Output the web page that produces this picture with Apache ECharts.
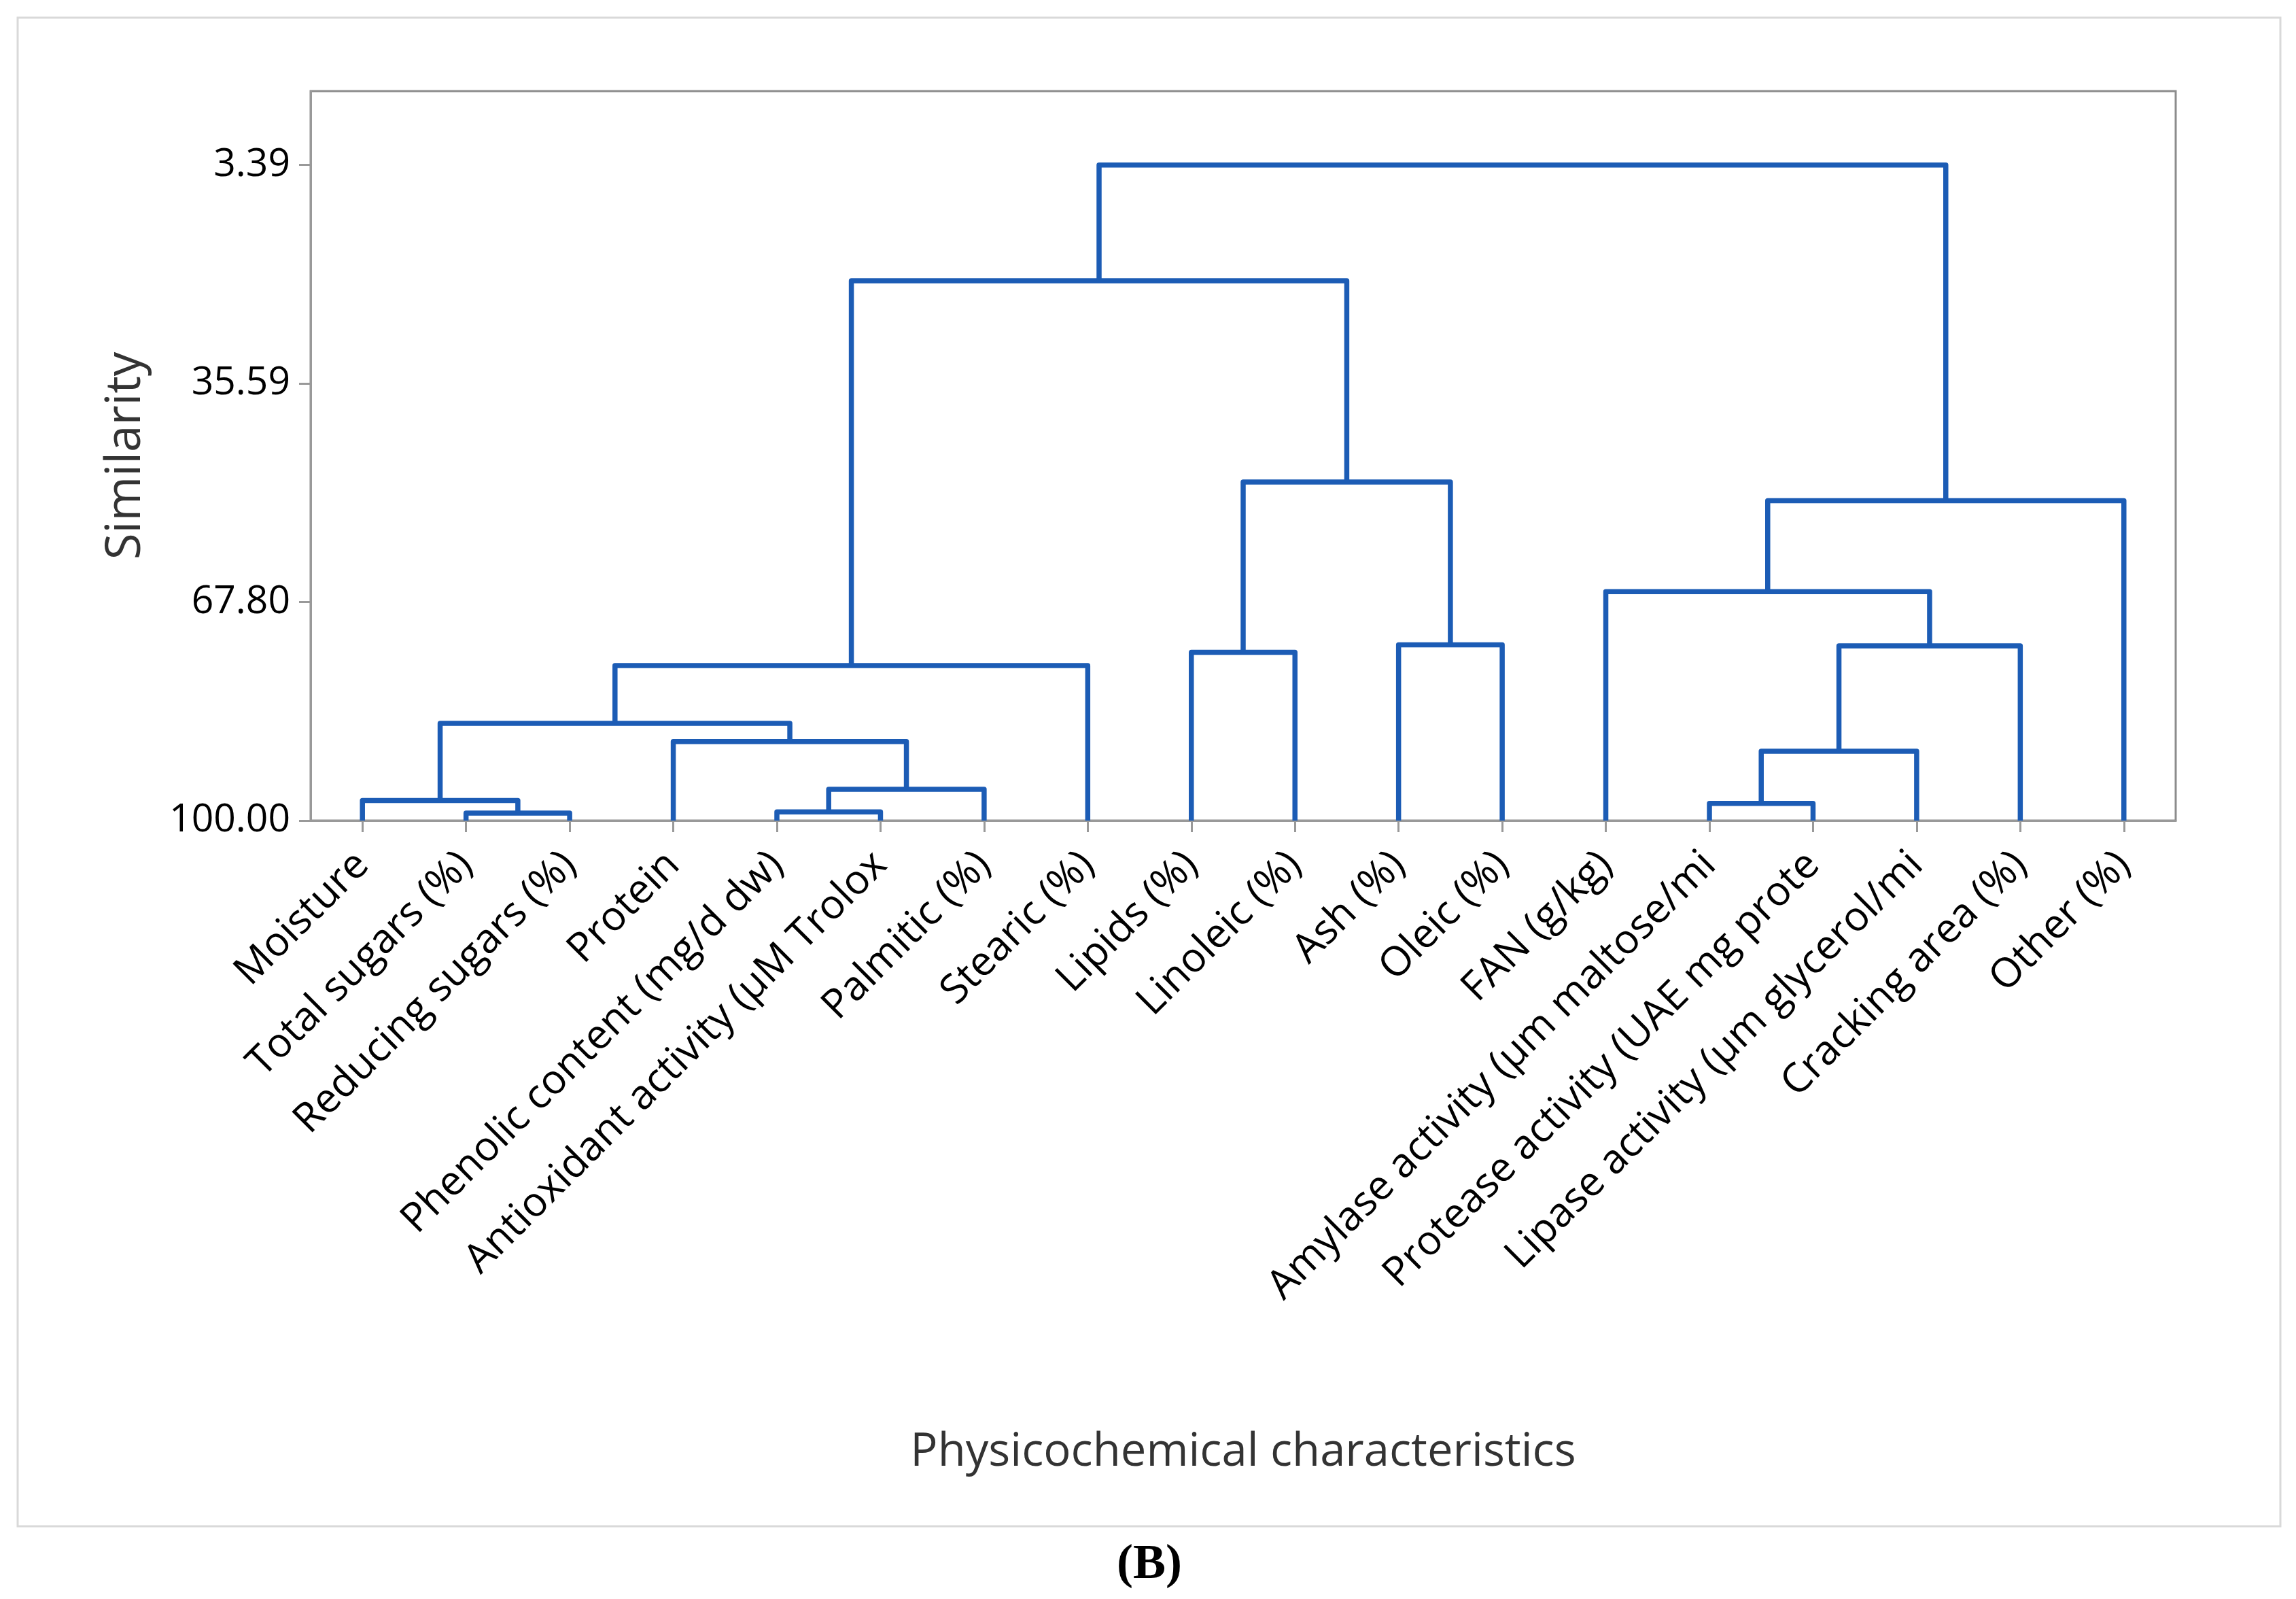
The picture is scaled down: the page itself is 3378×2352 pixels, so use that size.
<!DOCTYPE html>
<html>
<head>
<meta charset="utf-8">
<script src="https://cdn.jsdelivr.net/npm/echarts@6/dist/echarts.min.js"></script>
<style>
html,body{margin:0;padding:0;background:#fff;}
#chart{width:3378px;height:2352px;}
</style>
</head>
<body>
<div id="chart"></div>
<script>
// Leaves (left to right in the dendrogram)
const leaves = [
  'Moisture', 'Total sugars (%)', 'Reducing sugars (%)', 'Protein',
  'Phenolic content (mg/d dw)', 'Antioxidant activity (µM Trolox', 'Palmitic (%)', 'Stearic (%)',
  'Lipids (%)', 'Linoleic (%)', 'Ash (%)', 'Oleic (%)', 'FAN (g/kg)',
  'Amylase activity (µm maltose/mi', 'Protease activity (UAE mg prote',
  'Lipase activity (µm glycerol/mi', 'Cracking area (%)', 'Other (%)'
];
// Linkage: merge k creates node id 18+k from mergeLeft[k] and mergeRight[k]
const mergeLeft  = [1, 4, 13,  0, 19, 20,  3, 21, 25,  8, 23, 10, 12, 30, 27, 26, 33];
const mergeRight = [2, 5, 14, 18,  6, 15, 22, 24,  7,  9, 16, 11, 28, 17, 29, 32, 31];
const mergeSimilarity = [98.90, 98.73, 97.47, 97.05, 95.39, 89.77, 88.36, 85.68, 77.16,
                         75.21, 74.26, 74.09, 66.26, 52.86, 50.11, 20.44, 3.39];
// Tick labels of the similarity axis
const simTicks = [100.00, 67.80, 35.59, 3.39];

const toDist = s => 100 - s;
const pos = leaves.map((_, i) => i);
const sim = leaves.map(() => 100);
const linkSeries = [];
const lineColor = '#1c5cb5';
mergeLeft.forEach((l, k) => {
  const r = mergeRight[k];
  const s = mergeSimilarity[k];
  const data = [
    [pos[l], toDist(sim[l])],
    [pos[l], toDist(s)],
    [pos[r], toDist(s)],
    [pos[r], toDist(sim[r])]
  ];
  pos.push((pos[l] + pos[r]) / 2);
  sim.push(s);
  linkSeries.push({
    type: 'line', xAxisIndex: 1, yAxisIndex: 0, data: data,
    symbol: 'none', silent: true, animation: false,
    lineStyle: {color: lineColor, width: 7.5, join: 'round', cap: 'butt'},
    z: 5
  });
});

const tickDist = simTicks.map(toDist);
const tickInterval = (toDist(simTicks[3]) - toDist(simTicks[0])) / 3;

const chart = echarts.init(document.getElementById('chart'), null, {renderer: 'canvas'});
chart.setOption({
  backgroundColor: '#ffffff',
  animation: false,
  grid: {left: 457, right: 177, top: 134, bottom: 1145, show: true,
         borderColor: '#8c8c8c', borderWidth: 3, backgroundColor: 'transparent'},
  xAxis: [{
    type: 'category', data: leaves, boundaryGap: true, position: 'bottom',
    name: 'Physicochemical characteristics', nameLocation: 'middle', nameGap: 896,
    nameTextStyle: {fontFamily: 'Open Sans', fontSize: 67, color: '#333333'},
    axisLine: {show: true, onZero: false, lineStyle: {color: '#999999', width: 3}},
    axisTick: {show: true, alignWithLabel: true, length: 17, lineStyle: {color: '#999999', width: 3}},
    axisLabel: {rotate: 45, interval: 0, margin: 56, fontFamily: 'Open Sans', fontSize: 60, color: '#000000'},
    splitLine: {show: false}
  }, {
    type: 'value', min: -0.5, max: leaves.length - 0.5, show: false
  }],
  yAxis: [{
    type: 'value', min: 0, max: 107.5, interval: tickInterval,
    name: 'Similarity', nameLocation: 'middle', nameGap: 236, nameRotate: 90,
    nameTextStyle: {fontFamily: 'Open Sans', fontSize: 71, color: '#333333'},
    axisLine: {show: true, onZero: false, lineStyle: {color: '#999999', width: 3}},
    axisTick: {show: true, length: 17, customValues: tickDist, lineStyle: {color: '#999999', width: 3}},
    axisLabel: {margin: 30, fontFamily: 'Open Sans', fontSize: 57, fontWeight: 500, color: '#000000',
      customValues: tickDist,
      formatter: v => (100 - v).toFixed(2)},
    splitLine: {show: false}
  }],
  graphic: [
    {type: 'rect', shape: {x: 26, y: 26, width: 3329, height: 2219}, silent: true,
     style: {fill: 'none', stroke: '#d9d9d9', lineWidth: 3}, z: -1},
    {type: 'text', x: 1691, y: 2302, silent: true,
     style: {text: '(B)', fontFamily: 'Liberation Serif', fontWeight: 'bold', fontSize: 72,
             fill: '#000', align: 'center', verticalAlign: 'middle'}}
  ],
  series: linkSeries
});
</script>
</body>
</html>
